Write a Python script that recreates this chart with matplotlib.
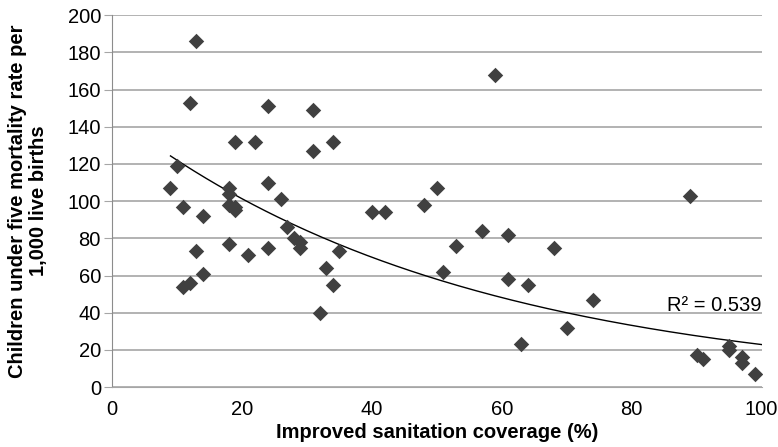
import numpy as np
import matplotlib
matplotlib.use("Agg")
import matplotlib.pyplot as plt

plt.rcParams['font.family'] = ['Liberation Sans', 'DejaVu Sans']

# improved sanitation coverage (%) vs under-five mortality per 1,000 live births
sanitation = [9, 10, 11, 11, 12, 12, 13, 13, 14, 14,
              18, 18, 18, 18, 19, 19, 19, 21, 22, 24,
              24, 24, 26, 27, 28, 29, 29, 31, 31, 32,
              33, 34, 34, 35, 40, 42, 48, 50, 51, 53,
              57, 59, 61, 61, 63, 64, 68, 70, 74, 89,
              90, 91, 95, 95, 97, 97, 99]
mortality = [107, 119, 97, 54, 56, 153, 186, 73, 92, 61,
             107, 104, 98, 77, 132, 97, 95, 71, 132, 151,
             110, 75, 101, 86, 80, 78, 75, 149, 127, 40,
             64, 132, 55, 73, 94, 94, 98, 107, 62, 76,
             84, 168, 82, 58, 23, 55, 75, 32, 47, 103,
             17, 15, 22, 20, 16, 13, 7]
r2_label = "R² = 0.539"

x = np.array(sanitation, dtype=float)
y = np.array(mortality, dtype=float)

# exponential trendline, fitted on log(y) like a spreadsheet would
b, ln_a = np.polyfit(x, np.log(y), 1)
xt = np.linspace(x.min(), 100, 200)
yt = np.exp(ln_a) * np.exp(b * xt)

fig = plt.figure(figsize=(7.78, 4.47), dpi=100)
ax = fig.add_axes([0.144, 0.134, 0.835, 0.832])

ax.scatter(x, y, marker='D', s=62, color='#404040', zorder=3, linewidths=0)
ax.plot(xt, yt, color='black', lw=1, zorder=2)

ax.set_xlim(0, 100)
ax.set_ylim(0, 200)
ax.set_xticks(range(0, 101, 20))
ax.set_yticks(range(0, 201, 20))
ax.grid(axis='y', color='#a6a6a6', lw=1.2)
ax.set_axisbelow(True)

for s in ['top', 'right']:
    ax.spines[s].set_visible(False)
ax.spines['left'].set_color('#8c8c8c')
ax.spines['bottom'].set_color('#a6a6a6')
ax.tick_params(axis='y', length=6, color='#a6a6a6', labelsize=14.5, pad=2)
ax.tick_params(axis='x', length=0, labelsize=14.5, pad=9)

ax.set_xlabel("Improved sanitation coverage (%)", fontsize=14.5,
              fontweight='bold', labelpad=3)
ax.set_ylabel("Children under five mortality rate per\n1,000 live births",
              fontsize=14.5, fontweight='bold', labelpad=14, linespacing=1.1)

ax.text(100, 41, r2_label, fontsize=14.5, ha='right', va='baseline')

fig.savefig("out.png", dpi=100)
